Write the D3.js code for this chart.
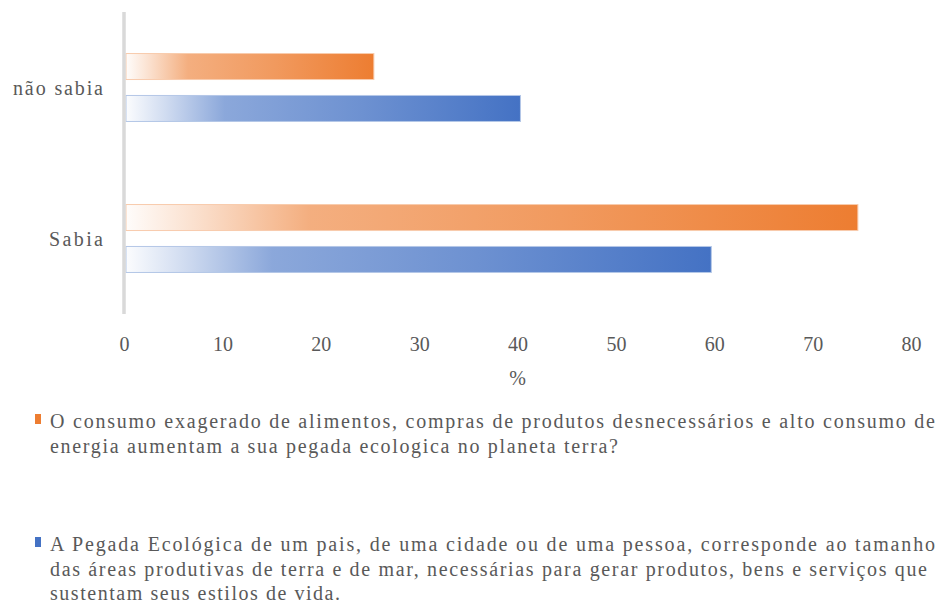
<!DOCTYPE html>
<html>
<head>
<meta charset="utf-8">
<script src="https://cdn.jsdelivr.net/npm/d3@7"></script>
<style>
  body { margin: 0; background: #fff; }
  text { font-family: "Liberation Serif", "Times New Roman", Times, "DejaVu Serif", serif; fill: #595959; }
</style>
</head>
<body>
<div id="chart"></div>
<script>
// Pegada ecológica - sabia / não sabia

const categories = ["não sabia", "Sabia"];
const seriesNames = ["consumo", "pegada"];
const consumoValues = [25.4, 74.6];
const pegadaValues = [40.3, 59.7];
const xTicks = [0, 10, 20, 30, 40, 50, 60, 70, 80];
const legendConsumo = [
  "O consumo exagerado de alimentos, compras de produtos desnecessários e alto consumo de",
  "energia aumentam a sua pegada ecologica no planeta terra?"
];
const legendPegada = [
  "A Pegada Ecológica de um pais, de uma cidade ou de uma pessoa, corresponde ao tamanho",
  "das áreas produtivas de terra e de mar, necessárias para gerar produtos, bens e serviços que",
  "sustentam seus estilos de vida."
];

const colors = { consumo: "#ED7D31", pegada: "#4472C4" };
const edge = { consumo: "#F8CBAD", pegada: "#B4C7E7" };

const W = 938, H = 610;
const svg = d3.select("#chart").append("svg")
  .attr("width", W).attr("height", H);

// gradients (light at the left, full colour at the right)
const defs = svg.append("defs");
seriesNames.forEach(s => {
  const g = defs.append("linearGradient").attr("id", "grad-" + s)
    .attr("x1", 0).attr("x2", 1).attr("y1", 0).attr("y2", 0);
  [[0, 0.02], [0.1, 0.25], [0.25, 0.62], [0.6, 0.78], [1, 1]].forEach(([o, a]) => {
    g.append("stop").attr("offset", o).attr("stop-color", colors[s]).attr("stop-opacity", a);
  });
});

const x = d3.scaleLinear().domain([0, 80]).range([124, 911]);
const y = d3.scaleBand().domain(categories).range([12, 314])
  .paddingInner(0.55).paddingOuter(0.275);
const ySub = d3.scaleBand().domain(seriesNames).range([0, y.bandwidth()]).paddingInner(0.38);

const rows = categories.map((c, i) => ({ cat: c, consumo: consumoValues[i], pegada: pegadaValues[i] }));

const groups = svg.selectAll(".grp").data(rows).enter().append("g")
  .attr("transform", d => `translate(0,${y(d.cat)})`);

groups.selectAll("rect")
  .data(d => seriesNames.map(s => ({ s, v: d[s] })))
  .enter().append("rect")
  .attr("x", x(0) + 2)
  .attr("y", d => ySub(d.s))
  .attr("width", d => x(d.v) - x(0) - 2)
  .attr("height", ySub.bandwidth())
  .attr("fill", d => `url(#grad-${d.s})`)
  .attr("stroke", d => edge[d.s])
  .attr("stroke-width", 1);

// vertical axis line
svg.append("line")
  .attr("x1", x(0)).attr("x2", x(0))
  .attr("y1", 12).attr("y2", 314)
  .attr("stroke", "#d9d9d9").attr("stroke-width", 3.5);

// category labels
const catLen = { "não sabia": 90, "Sabia": 54 };
svg.selectAll(".cat").data(categories).enter().append("text")
  .attr("x", 103)
  .attr("y", d => y(d) + y.bandwidth() / 2)
  .attr("dy", "0.35em")
  .attr("text-anchor", "end")
  .attr("font-size", "20px")
  .attr("textLength", d => catLen[d])
  .attr("lengthAdjust", "spacing")
  .text(d => d);

// x axis (labels only)
const xAxis = d3.axisBottom(x).tickValues(xTicks).tickSize(0).tickPadding(0);
const gx = svg.append("g").attr("transform", "translate(0,337)").call(xAxis);
gx.select(".domain").remove();
gx.attr("font-family", null);
gx.selectAll("text")
  .attr("font-size", "20px")
  .attr("fill", "#595959")
  .attr("dy", "0.71em")
  .attr("y", 0);

svg.append("text")
  .attr("x", (x(0) + x(80)) / 2)
  .attr("y", 385)
  .attr("text-anchor", "middle")
  .attr("font-size", "20px")
  .text("%");

// legend
function legendItem(lines, color, top, lens) {
  svg.append("rect")
    .attr("x", 35).attr("y", top - 14)
    .attr("width", 6).attr("height", 10)
    .attr("fill", color);
  lines.forEach((l, i) => {
    svg.append("text")
      .attr("x", 50)
      .attr("y", top + i * 24.5)
      .attr("font-size", "20px")
      .attr("textLength", lens[i])
      .attr("lengthAdjust", "spacing")
      .text(l);
  });
}
legendItem(legendConsumo, colors.consumo, 428, [885, 568]);
legendItem(legendPegada, colors.pegada, 551, [885, 877, 290]);
</script>
</body>
</html>
